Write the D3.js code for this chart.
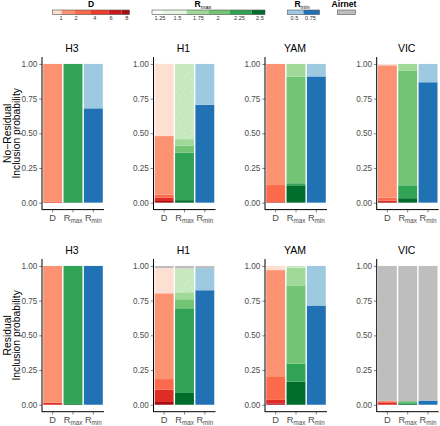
<!DOCTYPE html>
<html><head><meta charset="utf-8">
<script src="https://cdn.jsdelivr.net/npm/d3@7"></script>
<style>body{margin:0;background:#fff} text{font-family:"Liberation Sans",Arial,Helvetica,sans-serif}</style>
</head><body><svg id="c" width="440" height="426"></svg>
<script>
// ---------------- data ----------------
const viruses = ["H3", "H1", "YAM", "VIC"];
const rowTitles = [["No\u2212Residual", "Inclusion probability"], ["Residual", "Inclusion probability"]];
const variables = ["D", "Rmax", "Rmin"];
const yTicks = [0, 0.25, 0.5, 0.75, 1];

// stacking levels, bottom -> top
const dLevels = ["D8", "D6", "D4", "D2", "D1", "Airnet"];
const rmaxLevels = ["R2.5", "R2.25", "R2", "R1.75", "R1.5", "Airnet"];
const rminLevels = ["R0.75", "R0.5", "Airnet"];

// No-Residual model: segment heights per virus (H3, H1, YAM, VIC)
const noResD = [
  [0.000, 0.006, 0.000, 0.994, 0.000, 0],
  [0.012, 0.025, 0.020, 0.423, 0.520, 0],
  [0.004, 0.000, 0.123, 0.873, 0.000, 0],
  [0.005, 0.010, 0.022, 0.953, 0.010, 0]
];
const noResRmax = [
  [0.004, 0.996, 0.000, 0.000, 0.000, 0],
  [0.018, 0.342, 0.050, 0.048, 0.542, 0],
  [0.125, 0.015, 0.767, 0.093, 0.000, 0],
  [0.032, 0.093, 0.825, 0.050, 0.000, 0]
];
const noResRmin = [
  [0.680, 0.320, 0],
  [0.705, 0.295, 0],
  [0.910, 0.090, 0],
  [0.868, 0.132, 0]
];
// Residual model
const resD = [
  [0.000, 0.015, 0.000, 0.985, 0.000, 0.000],
  [0.020, 0.088, 0.077, 0.618, 0.182, 0.015],
  [0.010, 0.025, 0.165, 0.770, 0.030, 0.000],
  [0.000, 0.018, 0.000, 0.010, 0.000, 0.972]
];
const resRmax = [
  [0.006, 0.994, 0.000, 0.000, 0.000, 0.000],
  [0.085, 0.610, 0.065, 0.050, 0.172, 0.018],
  [0.166, 0.130, 0.564, 0.128, 0.012, 0.000],
  [0.008, 0.010, 0.008, 0.000, 0.000, 0.974]
];
const resRmin = [
  [1.000, 0.000, 0.000],
  [0.825, 0.160, 0.015],
  [0.715, 0.285, 0.000],
  [0.030, 0.000, 0.970]
];

// legend tick labels
const dLegendLabels = ["1", "2", "4", "6", "8"];
const rmaxLegendLabels = ["1.25", "1.5", "1.75", "2", "2.25", "2.5"];
const rminLegendLabels = ["0.5", "0.75"];

// ---------------- style ----------------
const dColors = ["#a50f15", "#de2d26", "#fb6a4a", "#fc9272", "#fee0d2", "#bebebe"];
const rmaxColors = ["#006d2c", "#31a354", "#74c476", "#a1d99b", "#c7e9c0", "#bebebe"];
const rminColors = ["#2171b5", "#9ecae1", "#bebebe"];
const levelColor = {};
dLevels.forEach((l, i) => levelColor["D:" + l] = dColors[i]);
rmaxLevels.forEach((l, i) => levelColor["Rmax:" + l] = rmaxColors[i]);
rminLevels.forEach((l, i) => levelColor["Rmin:" + l] = rminColors[i]);

const svg = d3.select("#c");
const defs = svg.append("defs");
const pat = defs.append("pattern").attr("id", "dots").attr("patternUnits", "userSpaceOnUse")
  .attr("width", 14).attr("height", 13);
pat.append("rect").attr("width", 14).attr("height", 13).attr("fill", "#c7e9c0");
[[2,3],[9,1],[6,8],[12,10],[3,11],[11,5]].forEach(p =>
  pat.append("circle").attr("cx", p[0]).attr("cy", p[1]).attr("r", 0.45).attr("fill", "#fff"));

const panelLefts = [42, 153.5, 265, 376.7];
const panelW = 62;
const rowsGeom = [{top: 57, bottom: 209.6}, {top: 259, bottom: 411.7}];
const tickColor = "#4d4d4d";

const dataRows = [
  {D: noResD, Rmax: noResRmax, Rmin: noResRmin},
  {D: resD, Rmax: resRmax, Rmin: resRmin}
];
const levelsOf = {D: dLevels, Rmax: rmaxLevels, Rmin: rminLevels};

rowsGeom.forEach((rg, ri) => {
  const pad = (rg.bottom - rg.top) * 0.05 / 1.1;
  const y = d3.scaleLinear().domain([0, 1]).range([rg.bottom - pad, rg.top + pad]);

  // y axis title
  const cy = (rg.top + rg.bottom) / 2;
  const yt = svg.append("text").attr("transform", `translate(0,${cy}) rotate(-90)`)
    .attr("text-anchor", "middle").attr("font-size", 10.3).attr("fill", "#000");
  yt.append("tspan").attr("x", 0).attr("y", 10.8).text(rowTitles[ri][0]);
  yt.append("tspan").attr("x", 0).attr("y", 19.8).text(rowTitles[ri][1]);

  viruses.forEach((v, vi) => {
    const x0 = panelLefts[vi];
    const x = d3.scaleBand().domain(variables).range([x0, x0 + panelW]).paddingInner(0.07).paddingOuter(0.06);
    const g = svg.append("g");

    variables.forEach(varName => {
      const vals = dataRows[ri][varName][vi];
      const levs = levelsOf[varName];
      let cum = 0;
      vals.forEach((h, li) => {
        if (h <= 0) return;
        const y0 = cum, y1 = cum + h;
        cum = y1;
        const isDots = varName === "Rmax" && li === 4;
        g.append("rect")
          .attr("x", x(varName)).attr("width", x.bandwidth())
          .attr("y", y(y1)).attr("height", y(y0) - y(y1))
          .attr("fill", isDots ? "url(#dots)" : levelColor[varName + ":" + levs[li]]);
      });
    });

    // axes
    const ya = d3.axisLeft(y).tickValues(yTicks).tickFormat(d3.format(".2f")).tickSize(2.8).tickPadding(1.8);
    const yg = g.append("g").attr("transform", `translate(${x0},0)`).call(ya);
    yg.select(".domain").remove();
    yg.selectAll(".tick line").attr("stroke", "#333").attr("stroke-width", 0.6);
    yg.selectAll(".tick text").attr("fill", tickColor).attr("font-size", 8.2)
      .attr("font-family", '"Liberation Sans",Arial,sans-serif');
    g.append("line").attr("x1", x0).attr("x2", x0).attr("y1", rg.top).attr("y2", rg.bottom + 0.3)
      .attr("stroke", "#000").attr("stroke-width", 1);
    g.append("line").attr("x1", x0).attr("x2", x0 + panelW).attr("y1", rg.bottom).attr("y2", rg.bottom)
      .attr("stroke", "#000").attr("stroke-width", 1);

    const xa = d3.axisBottom(x).tickSize(2.8).tickFormat("");
    const xg = g.append("g").attr("transform", `translate(0,${rg.bottom})`).call(xa);
    xg.select(".domain").remove();
    xg.selectAll(".tick line").attr("stroke", "#333").attr("stroke-width", 0.6);
    variables.forEach(vn => {
      const t = g.append("text").attr("x", x(vn) + x.bandwidth() / 2).attr("y", rg.bottom + 11.5)
        .attr("text-anchor", "middle").attr("fill", tickColor).attr("font-size", 9.3);
      if (vn === "D") t.text("D");
      else {
        t.append("tspan").text("R");
        t.append("tspan").attr("font-size", 6.3).attr("dy", 2).text(vn === "Rmax" ? "max" : "min");
      }
    });

    // panel title
    svg.append("text").attr("x", x0 + panelW / 2 - 1).attr("y", rg.top - 5)
      .attr("text-anchor", "middle").attr("font-size", 10.5).attr("fill", "#000").text(v);
  });
});

// ---------------- legends ----------------
const lg = svg.append("g");
function colorbar(segEdges, colors, labels, labelXs, title, sub, titleX) {
  const by = 10, bh = 4.6;
  colors.forEach((c, i) => {
    lg.append("rect").attr("x", segEdges[i]).attr("y", by).attr("width", segEdges[i + 1] - segEdges[i])
      .attr("height", bh).attr("fill", c);
  });
  lg.append("rect").attr("x", segEdges[0]).attr("y", by).attr("width", segEdges[segEdges.length - 1] - segEdges[0])
    .attr("height", bh).attr("fill", "none").attr("stroke", "#555").attr("stroke-width", 0.6);
  labels.forEach((l, i) => lg.append("text").attr("x", labelXs[i]).attr("y", 20.3).attr("text-anchor", "middle")
    .attr("font-size", 5.6).attr("fill", "#333").text(l));
  const t = lg.append("text").attr("x", titleX).attr("y", 7.4).attr("text-anchor", "middle")
    .attr("font-size", 8.6).attr("font-weight", "bold").attr("fill", "#000");
  t.append("tspan").text(title);
  if (sub) t.append("tspan").attr("font-size", 5.6).attr("font-weight", "normal").attr("dy", 1.8).text(sub);
}
colorbar([52.5, 61.7, 75, 91, 108.5, 121.5, 129.5],
  ["#fee0d2", "#fc9272", "#fb6a4a", "#ef3b2c", "#cb181d", "#a50f15"],
  dLegendLabels, [61, 76, 94.7, 111, 126.7], "D", null, 91);
colorbar([152, 163.3, 186.7, 208.3, 230, 251.7, 265],
  ["#f7fcf5", "#e5f5e0", "#a1d99b", "#74c476", "#31a354", "#006d2c"],
  rmaxLegendLabels, [160, 177.5, 198.5, 218, 239.5, 260], "R", "max", 203);
colorbar([287.5, 303.5, 319.5], ["#9ecae1", "#2171b5"], rminLegendLabels, [294.5, 310.5], "R", "min", 302);
colorbar([337.5, 355.5], ["#bebebe"], [], [], "Airnet", null, 344);
</script></body></html>
